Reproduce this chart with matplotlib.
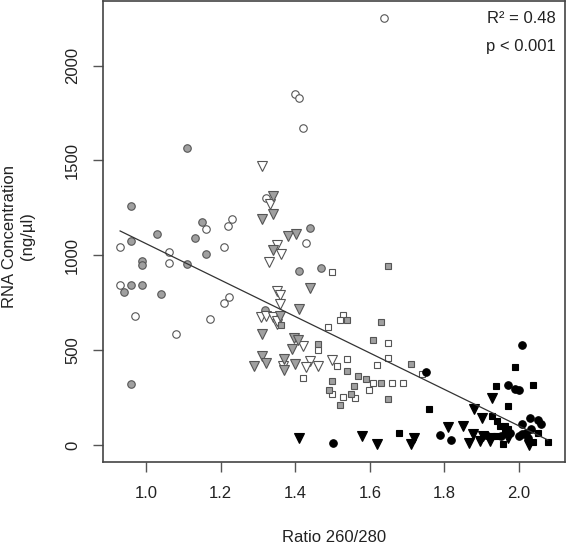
import matplotlib
matplotlib.use('Agg')
import matplotlib.pyplot as plt
import numpy as np

plt.rcParams['font.family'] = ['Liberation Sans', 'DejaVu Sans']

# open circles
oc_x = [0.930, 0.930, 0.971, 1.060, 1.060, 1.080, 1.160, 1.170, 1.210, 1.210,
        1.220, 1.221, 1.231, 1.321, 1.399, 1.411, 1.420, 1.430, 1.639]
oc_y = [1041, 843, 677, 1018, 960, 584, 1139, 666, 1041, 750,
        1154, 782, 1189, 1303, 1850, 1829, 1672, 1062, 2250]

# grey circles
gc_x = [0.940, 0.960, 0.960, 0.960, 0.960, 0.990, 0.990, 0.990, 1.030, 1.040,
        1.110, 1.110, 1.131, 1.151, 1.160, 1.319, 1.409, 1.440, 1.469]
gc_y = [805, 1259, 1074, 843, 322, 969, 948, 843, 1112, 796,
        1564, 953, 1093, 1177, 1004, 712, 917, 1141, 934]

# open triangles
ot_x = [1.310, 1.331, 1.350, 1.361, 1.330, 1.350, 1.360, 1.359, 1.307, 1.321,
        1.339, 1.350, 1.350, 1.422, 1.366, 1.440, 1.429, 1.460, 1.499]
ot_y = [1469, 1268, 1053, 1009, 965, 812, 791, 743, 674, 680,
        674, 637, 651, 519, 415, 441, 409, 415, 446]

# grey triangles
gt_x = [1.340, 1.340, 1.310, 1.380, 1.401, 1.340, 1.439, 1.409, 1.359, 1.310,
        1.397, 1.408, 1.391, 1.310, 1.321, 1.290, 1.370, 1.370, 1.399]
gt_y = [1312, 1219, 1191, 1100, 1114, 1030, 829, 716, 680, 584,
        563, 551, 506, 467, 432, 415, 455, 397, 429]

# open squares
os_x = [1.499, 1.529, 1.520, 1.487, 1.460, 1.649, 1.649, 1.619, 1.540, 1.511,
        1.420, 1.609, 1.660, 1.690, 1.599, 1.499, 1.529, 1.561, 1.741]
os_y = [911, 687, 656, 622, 502, 537, 460, 420, 453, 415,
        354, 327, 324, 324, 289, 266, 254, 249, 376]

# grey squares
gs_x = [1.650, 1.540, 1.630, 1.361, 1.460, 1.609, 1.710, 1.540, 1.499, 1.569,
        1.590, 1.630, 1.559, 1.490, 1.549, 1.648, 1.520]
gs_y = [944, 656, 647, 633, 532, 551, 429, 388, 339, 362,
        345, 324, 310, 287, 266, 243, 208]

# black circles
bc_x = [1.500, 1.751, 1.789, 1.819, 1.913, 1.952, 1.970, 1.976, 1.990, 2.000,
        2.000, 2.009, 2.009, 2.009, 2.020, 2.025, 2.029, 2.034, 2.051, 2.059]
bc_y = [9, 383, 52, 25, 51, 47, 315, 65, 296, 287,
        47, 525, 109, 56, 65, 39, 144, 82, 130, 109]

# black triangles
bt_x = [1.409, 1.580, 1.620, 1.719, 1.710, 1.810, 1.849, 1.867, 1.877, 1.879,
        1.895, 1.900, 1.904, 1.922, 1.929, 1.971, 2.028]
bt_y = [35, 47, 4, 34, 4, 96, 98, 9, 56, 191,
        21, 140, 47, 21, 245, 39, 0]

# black squares
bs_x = [1.679, 1.760, 1.927, 1.929, 1.939, 1.940, 1.941, 1.949, 1.958, 1.962,
        1.962, 1.970, 1.971, 1.989, 2.039, 2.039, 2.052, 2.078]
bs_y = [65, 187, 47, 152, 310, 47, 126, 100, 4, 100,
        73, 203, 82, 409, 317, 13, 65, 13]

r2_text = 'R\u00b2 = 0.48'
p_text = 'p < 0.001'

GREY = '#a0a0a0'
EDGE = '#555555'

fig = plt.figure(figsize=(5.66, 5.45), dpi=100)
ax = fig.add_axes([103 / 566, 1 - 462 / 545, 462 / 566, 461 / 545])

groups = [
    (oc_x, oc_y, 'o', 'white', EDGE, 5.4),
    (gc_x, gc_y, 'o', GREY, EDGE, 5.4),
    (ot_x, ot_y, 'v', 'white', EDGE, 6.8),
    (gt_x, gt_y, 'v', GREY, EDGE, 6.8),
    (os_x, os_y, 's', 'white', EDGE, 4.9),
    (gs_x, gs_y, 's', GREY, EDGE, 4.9),
    (bc_x, bc_y, 'o', 'black', 'black', 5.4),
    (bt_x, bt_y, 'v', 'black', 'black', 6.8),
    (bs_x, bs_y, 's', 'black', 'black', 4.9),
]
for gx, gy, m, fc, ec, ms in groups:
    ax.plot(gx, gy, linestyle='none', marker=m, markerfacecolor=fc,
            markeredgecolor=ec, markersize=ms, markeredgewidth=0.8)

# least squares line over the data range
all_x = np.concatenate([g[0] for g in groups])
all_y = np.concatenate([g[1] for g in groups])
slope, intercept = np.polyfit(all_x, all_y, 1)
lx = np.array([all_x.min(), all_x.max()])
ax.plot(lx, slope * lx + intercept, color='#333333', linewidth=0.9)

# R style 4% padding
xr = all_x.max() - all_x.min()
yr = all_y.max() - all_y.min()
ax.set_xlim(all_x.min() - 0.04 * xr, all_x.max() + 0.04 * xr)
ax.set_ylim(all_y.min() - 0.04 * yr, all_y.max() + 0.04 * yr)

ax.set_xticks([1.0, 1.2, 1.4, 1.6, 1.8, 2.0])
ax.set_xticklabels(['1.0', '1.2', '1.4', '1.6', '1.8', '2.0'])
ax.set_yticks([0, 500, 1000, 1500, 2000])
ax.set_yticklabels(['0', '500', '1000', '1500', '2000'], rotation=90, va='center')

for sp in ax.spines.values():
    sp.set_color('#444444')
    sp.set_linewidth(1.2)
ax.tick_params(direction='out', length=7.5, width=1.0, color='#555555',
               labelsize=12, labelcolor='#222222')
ax.tick_params(axis='x', pad=10)
ax.tick_params(axis='y', pad=9)

fig.text(0.5 * (103 + 565) / 566, 1 - 538 / 545, 'Ratio 260/280', ha='center', va='center',
         fontsize=12, color='#222222')
fig.text(19 / 566, 1 - 236 / 545, 'RNA Concentration\n(ng/\u00b5l)', ha='center', va='center',
         rotation=90, fontsize=12, color='#222222', linespacing=1.25)

ax.text(0.98, 0.963, r2_text, transform=ax.transAxes, ha='right', va='center',
        fontsize=12, color='#222222')
ax.text(0.98, 0.902, p_text, transform=ax.transAxes, ha='right', va='center',
        fontsize=12, color='#222222')

fig.savefig('out.png', dpi=100)
